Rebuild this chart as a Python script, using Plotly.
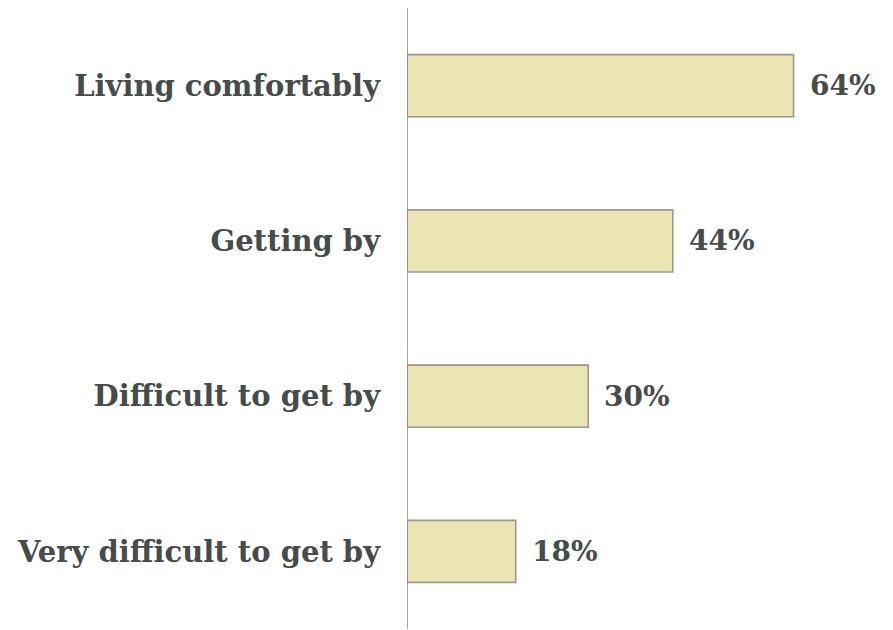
import plotly.graph_objects as go

categories = ["Living comfortably", "Getting by", "Difficult to get by", "Very difficult to get by"]
values = [64, 44, 30, 18]
labels = ["64%", "44%", "30%", "18%"]

FONT = "Georgia, 'DejaVu Serif', serif"
TXT = "#464b4b"

fig = go.Figure()
fig.add_trace(go.Bar(
    y=categories, x=values, orientation="h",
    marker=dict(color="#ebe5b1", line=dict(color="#999992", width=1.6)),
    width=0.4,
    hoverinfo="skip",
))
for c, v, t in zip(categories, values, labels):
    fig.add_annotation(x=v, y=c, text=t, showarrow=False, xanchor="left",
                       xshift=14, font=dict(family=FONT, size=28, color=TXT, weight="bold"))

fig.update_layout(
    width=885, height=622,
    margin=dict(l=399, r=4, t=0, b=1),
    paper_bgcolor="white", plot_bgcolor="white",
    showlegend=False,
    xaxis=dict(range=[0, 79.8], visible=False, fixedrange=True),
    yaxis=dict(autorange="reversed", showgrid=False, zeroline=False,
               showline=False, ticks="", ticklabelstandoff=26, automargin=False,
               tickfont=dict(family=FONT, size=29, color=TXT, weight="bold")),
)
fig.add_shape(type="line", xref="x", yref="paper", x0=0, x1=0, y0=0, y1=1,
              line=dict(color="#8a8a8a", width=1.5))
fig.write_html("out.html")
